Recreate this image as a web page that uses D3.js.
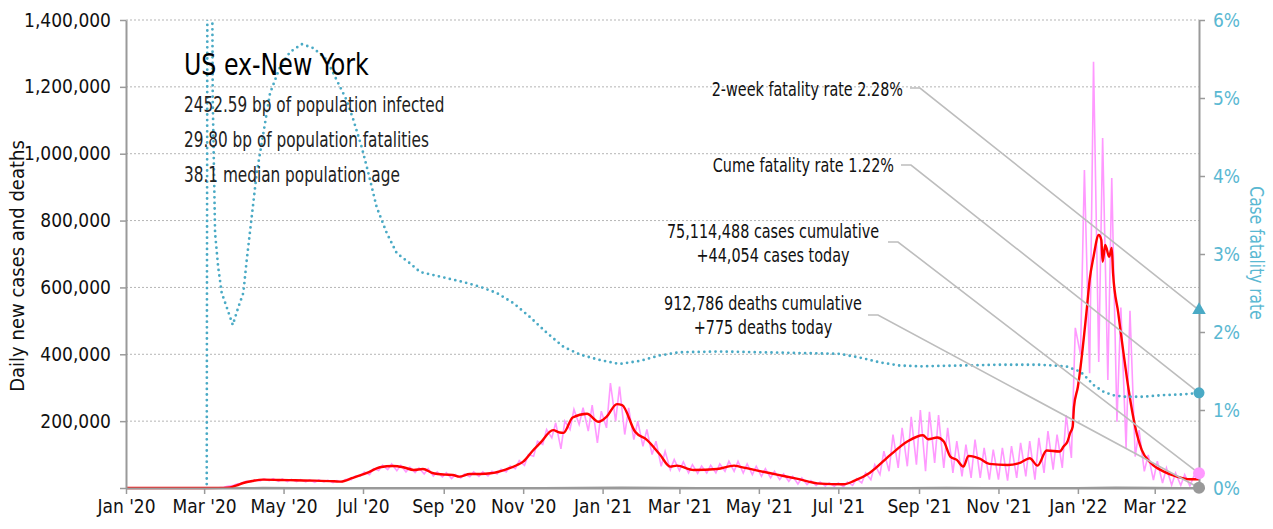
<!DOCTYPE html>
<html>
<head>
<meta charset="utf-8">
<script src="https://cdn.jsdelivr.net/npm/d3@7"></script>
<style>
body { margin: 0; background: #fff; }
text { font-family: 'Liberation Sans Narrow', 'DejaVu Sans Condensed', sans-serif; }
</style>
</head>
<body>
<script>
// ---- data ----
const yTicks = [0, 200000, 400000, 600000, 800000, 1000000, 1200000, 1400000];
const rateTicks = [0, 1, 2, 3, 4, 5, 6];

// weekly low (Mon) / high (Thu) of daily new cases, thousands, weeks from Sun 2020-01-05
const pinkLow = [
  0, 0, 0, 0,  0, 0, 0, 0,  0, 0.3, 2, 7, 14,  19, 21, 22, 20,  19, 19, 18, 17, 18,
  16, 18, 25, 35,  40, 52, 55, 52,  48, 46, 42, 36, 33,  28, 30, 34, 35,  36, 42, 48, 58,
  68, 95, 130, 150, 117,  175, 190, 170, 135,
  180, 200, 160, 145, 125,  100, 65, 55, 52,  45, 44, 45, 45,  50, 50, 45, 40,
  35, 30, 25, 20, 12,  10, 8, 6, 5,  4, 8, 15, 25,  40, 50, 60, 65, 70,  50, 75, 60, 45,
  35, 30, 30, 25, 25,  22, 30, 35, 25,  45, 55, 60, 90,
  400, 343, 377, 323, 198,  120, 94, 50, 24,  15, 9, 8, 6
];
const pinkHigh = [
  0, 0, 0, 0,  0, 0, 0, 0,  0.1, 0.8, 5, 12, 20,  24, 27, 28, 27,  26, 25, 24, 24, 23,
  22, 26, 36, 48,  58, 68, 72, 68,  62, 60, 58, 48, 46,  40, 42, 48, 48,  50, 56, 66, 82,
  100, 140, 175, 195, 200,  235, 240, 248, 230,
  314, 303, 240, 200, 175,  140, 110, 85, 78,  70, 66, 68, 72,  80, 80, 72, 65,
  58, 50, 42, 35, 30,  22, 18, 15, 15,  18, 28, 45, 70,  110, 160, 180, 213, 233,  228, 218, 180, 140,
  130, 145, 120, 115, 120,  125, 135, 140, 150,  170, 160, 218, 479,
  951, 1275, 1047, 927, 540,  530, 173, 99, 80,  60, 45, 40, 35
];

// 7-day average of new cases: [day since 2020-01-01, thousands]
const avgCases = [
  [0, 0], [60, 0], [75, 0.5], [80, 2], [85, 8], [90, 15], [97, 21], [105, 25], [118, 24],
  [130, 23], [145, 22], [160, 20], [165, 19], [174, 30], [185, 45], [195, 62], [205, 66],
  [213, 62], [221, 54], [228, 57], [236, 44], [245, 40], [251, 39], [256, 34], [264, 42],
  [272, 42], [280, 44], [292, 56], [300, 68], [305, 79], [312, 110], [318, 134], [328, 173],
  [333, 166], [336, 165], [343, 211], [354, 222], [363, 198], [369, 213], [377, 251], [381, 248],
  [391, 168], [400, 144], [410, 100], [418, 64], [423, 67], [436, 54], [454, 57], [467, 67],
  [471, 64], [485, 52], [500, 40], [515, 28], [533, 13], [551, 11], [559, 21], [571, 45],
  [587, 99], [600, 139], [612, 158], [616, 146], [623, 151], [628, 139], [633, 94], [638, 84],
  [643, 64], [647, 96], [656, 87], [663, 72], [677, 69], [687, 76], [694, 89], [700, 67],
  [707, 112], [717, 109], [720, 124], [723, 139], [725, 164], [727, 183], [728, 243], [731, 303],
  [738, 542], [740, 622], [743, 692], [747, 757], [749, 742], [750, 677], [752, 727], [755, 692],
  [757, 718], [758, 643], [762, 523], [766, 404], [770, 293], [775, 183], [780, 114], [787, 75],
  [797, 49], [807, 34], [817, 26], [824, 26]
];

// daily deaths: [day, deaths]
const dailyDeaths = [
  [0, 0], [60, 0], [75, 50], [90, 800], [105, 1200], [130, 900], [160, 500], [200, 800],
  [230, 850], [260, 600], [290, 600], [320, 1000], [350, 1800], [380, 2500], [410, 1600],
  [440, 700], [480, 500], [530, 250], [560, 250], [600, 1000], [630, 1600], [660, 1100],
  [700, 900], [730, 1100], [760, 2000], [790, 1500], [810, 800], [824, 775]
];

// cumulative case fatality rate: [day, percent]
const fatalityRate = [
  [62.0, 0.05], [62.6, 8], [65.8, 8], [66.6, 5], [68.4, 3.27], [70.8, 2.83], [73.5, 2.5],
  [77.3, 2.32], [82, 2.09], [86.3, 2.32], [90.1, 2.5], [92.7, 2.92], [96.5, 3.47], [100.4, 4.04],
  [105.5, 4.55], [110.6, 5.06], [118.3, 5.4], [126, 5.59], [135, 5.69], [143.9, 5.64],
  [154.1, 5.49], [161.8, 5.23], [169.5, 4.97], [174.6, 4.72], [181, 4.37], [186.1, 4.04],
  [192.5, 3.6], [200.2, 3.27], [207.9, 3.01], [218.1, 2.88], [225.8, 2.77], [241.2, 2.71],
  [259.1, 2.64], [271.9, 2.58], [284.7, 2.5], [297.5, 2.37], [310.3, 2.19], [323.1, 1.99],
  [335.9, 1.81], [348.7, 1.71], [364, 1.64], [379, 1.59], [395, 1.63], [410, 1.7], [425, 1.74],
  [456, 1.75], [487, 1.74], [518, 1.73], [548, 1.72], [564, 1.67], [579, 1.61], [594, 1.57],
  [610, 1.56], [640, 1.57], [671, 1.58], [702, 1.58], [722, 1.56], [733, 1.49], [738, 1.41],
  [743, 1.32], [751, 1.23], [758, 1.19], [766, 1.17], [781, 1.17], [796, 1.19], [812, 1.2],
  [824, 1.22]
];

const casesToday = 44054;
const deathsToday = 775;
const twoWeekRate = 2.28;
const cumeRate = 1.22;

const titleText = "US ex-New York";
const statLines = [
  "2452.59 bp of population infected",
  "29.80 bp of population fatalities",
  "38.1 median population age"
];

// ---- layout ----
const svgSize = { width: 1273, height: 529 };
const plot = { left: 126, right: 1199, top: 20, bottom: 488 };
const colors = { pink: "#ff99ff", red: "#ff0000", teal: "#4aaac5", tealText: "#5ab8d2", axis: "#9a9a9a", leader: "#bdbdbd" };

const startDate = new Date(2020, 0, 1);
const endDate = new Date(2022, 3, 4);
const weekStart = new Date(2020, 0, 5);
const dayToDate = d => new Date(startDate.getTime() + d * 864e5);

const x = d3.scaleTime().domain([startDate, endDate]).range([plot.left, plot.right]);
const y = d3.scaleLinear().domain([0, 1400000]).range([plot.bottom, plot.top]);
const yRate = d3.scaleLinear().domain([0, 6]).range([plot.bottom, plot.top]);

const svg = d3.select('body')
  .append('svg')
  .attr('width', svgSize.width)
  .attr('height', svgSize.height);

// condensed text: the reference face is narrower than anything installed
function label(px, py, str, size, anchor, sx, fill) {
  return svg.append('text')
    .attr('transform', `translate(${px},${py}) scale(${sx},1)`)
    .attr('text-anchor', anchor)
    .attr('font-size', size)
    .attr('fill', fill)
    .text(str);
}

svg.append('defs').append('clipPath').attr('id', 'plotclip')
  .append('rect')
  .attr('x', plot.left).attr('y', plot.top)
  .attr('width', plot.right - plot.left).attr('height', plot.bottom - plot.top);

// gridlines
svg.append('g')
  .selectAll('line')
  .data(yTicks.filter(d => d > 0))
  .enter()
  .append('line')
  .attr('x1', plot.left).attr('x2', plot.right)
  .attr('y1', d => y(d)).attr('y2', d => y(d))
  .attr('stroke', '#b5b5b5')
  .attr('stroke-width', 1)
  .attr('stroke-dasharray', '2,2');

// daily cases (pink)
const daily = [{ date: startDate, v: 0 }];
pinkLow.forEach((lo, k) => {
  daily.push({ date: d3.timeDay.offset(weekStart, 7 * k + 1), v: lo * 1000 });
  daily.push({ date: d3.timeDay.offset(weekStart, 7 * k + 4), v: pinkHigh[k] * 1000 });
});
daily.push({ date: endDate, v: casesToday });

svg.append('path')
  .datum(daily)
  .attr('fill', 'none')
  .attr('stroke', colors.pink)
  .attr('stroke-width', 1.6)
  .attr('d', d3.line().x(d => x(d.date)).y(d => y(d.v)));

// deaths (gray)
svg.append('path')
  .datum(dailyDeaths)
  .attr('fill', 'none')
  .attr('stroke', '#999')
  .attr('stroke-width', 1.5)
  .attr('d', d3.line().x(d => x(dayToDate(d[0]))).y(d => y(d[1])));

// 7-day average (red)
svg.append('path')
  .datum(avgCases)
  .attr('fill', 'none')
  .attr('stroke', colors.red)
  .attr('stroke-width', 2.4)
  .attr('d', d3.line().curve(d3.curveMonotoneX).x(d => x(dayToDate(d[0]))).y(d => y(d[1] * 1000)));

// fatality rate (teal dotted)
svg.append('path')
  .datum(fatalityRate)
  .attr('clip-path', 'url(#plotclip)')
  .attr('fill', 'none')
  .attr('stroke', colors.teal)
  .attr('stroke-width', 2.8)
  .attr('stroke-linecap', 'round')
  .attr('stroke-dasharray', '0,5.6')
  .attr('d', d3.line().x(d => x(dayToDate(d[0]))).y(d => yRate(d[1])));

// axes
const yAxis = d3.axisLeft(y)
  .tickValues(yTicks)
  .tickFormat(d => d ? d3.format(",")(d) : "")
  .tickSize(6).tickPadding(9).tickSizeOuter(0);
const gy = svg.append('g').attr('transform', `translate(${plot.left},0)`).call(yAxis);

const xAxis = d3.axisBottom(x)
  .ticks(d3.timeMonth.every(2))
  .tickFormat(d3.timeFormat("%b '%y"))
  .tickSize(6).tickPadding(6).tickSizeOuter(0);
const gx = svg.append('g').attr('transform', `translate(0,${plot.bottom})`).call(xAxis);

const rAxis = d3.axisRight(yRate)
  .tickValues(rateTicks)
  .tickFormat(d => d + "%")
  .tickSize(6).tickPadding(8).tickSizeOuter(0);
const gr = svg.append('g').attr('transform', `translate(${plot.right},0)`).call(rAxis);

[gy, gx, gr].forEach(g => {
  g.select('.domain').attr('stroke', colors.axis).attr('stroke-width', 2);
  g.selectAll('.tick line').attr('stroke', colors.axis).attr('stroke-width', 1.5);
  g.selectAll('.tick text')
    .attr('font-family', "'Liberation Sans Narrow', 'DejaVu Sans Condensed', sans-serif")
    .attr('font-size', 19).attr('fill', '#111');
});
gr.selectAll('.tick text').attr('fill', colors.tealText);

// axis titles
svg.append('text')
  .attr('transform', `translate(24,266) rotate(-90)`)
  .attr('text-anchor', 'middle')
  .attr('font-size', 20)
  .attr('fill', '#111')
  .text('Daily new cases and deaths');
svg.append('text')
  .attr('transform', `translate(1250,253) rotate(90) scale(0.86,1)`)
  .attr('text-anchor', 'middle')
  .attr('font-size', 20)
  .attr('fill', colors.tealText)
  .text('Case fatality rate');

// title block
label(184, 75, titleText, 31, 'start', 0.85, '#000');
statLines.forEach((t, i) => label(184, 112 + i * 35, t, 21, 'start', 0.81, '#222'));

// annotations with leader lines
const endX = x(endDate);
const notes = [
  { lines: ["2-week fatality rate 2.28%"], anchor: 'end', tx: 903, ty: 89, lx: 910, ly: 88, target: yRate(twoWeekRate) },
  { lines: ["Cume fatality rate 1.22%"], anchor: 'end', tx: 894, ty: 165, lx: 901, ly: 165, target: yRate(cumeRate) },
  { lines: ["75,114,488 cases cumulative", "+44,054 cases today"], anchor: 'middle', tx: 773, ty: 231, lx: 888, ly: 242, target: y(casesToday) },
  { lines: ["912,786 deaths cumulative", "+775 deaths today"], anchor: 'middle', tx: 763, ty: 303, lx: 868, ly: 315, target: y(deathsToday) }
];
notes.forEach(n => {
  svg.append('polyline')
    .attr('points', `${n.lx},${n.ly} ${n.lx + 10},${n.ly} ${endX},${n.target}`)
    .attr('fill', 'none')
    .attr('stroke', colors.leader)
    .attr('stroke-width', 1.6);
  n.lines.forEach((t, i) => {
    label(n.tx, n.ty + i * 24 + 7, t, 20, n.anchor, 0.8, '#111');
  });
});

// end markers
svg.append('path')
  .attr('d', d3.symbol().type(d3.symbolTriangle).size(80)())
  .attr('transform', `translate(${endX},${yRate(twoWeekRate)})`)
  .attr('fill', colors.teal);
svg.append('circle').attr('cx', endX).attr('cy', yRate(cumeRate)).attr('r', 5.5).attr('fill', colors.teal);
svg.append('circle').attr('cx', endX).attr('cy', y(casesToday)).attr('r', 6).attr('fill', colors.pink);
svg.append('circle').attr('cx', endX).attr('cy', y(deathsToday)).attr('r', 6).attr('fill', '#999');
</script>
</body>
</html>
